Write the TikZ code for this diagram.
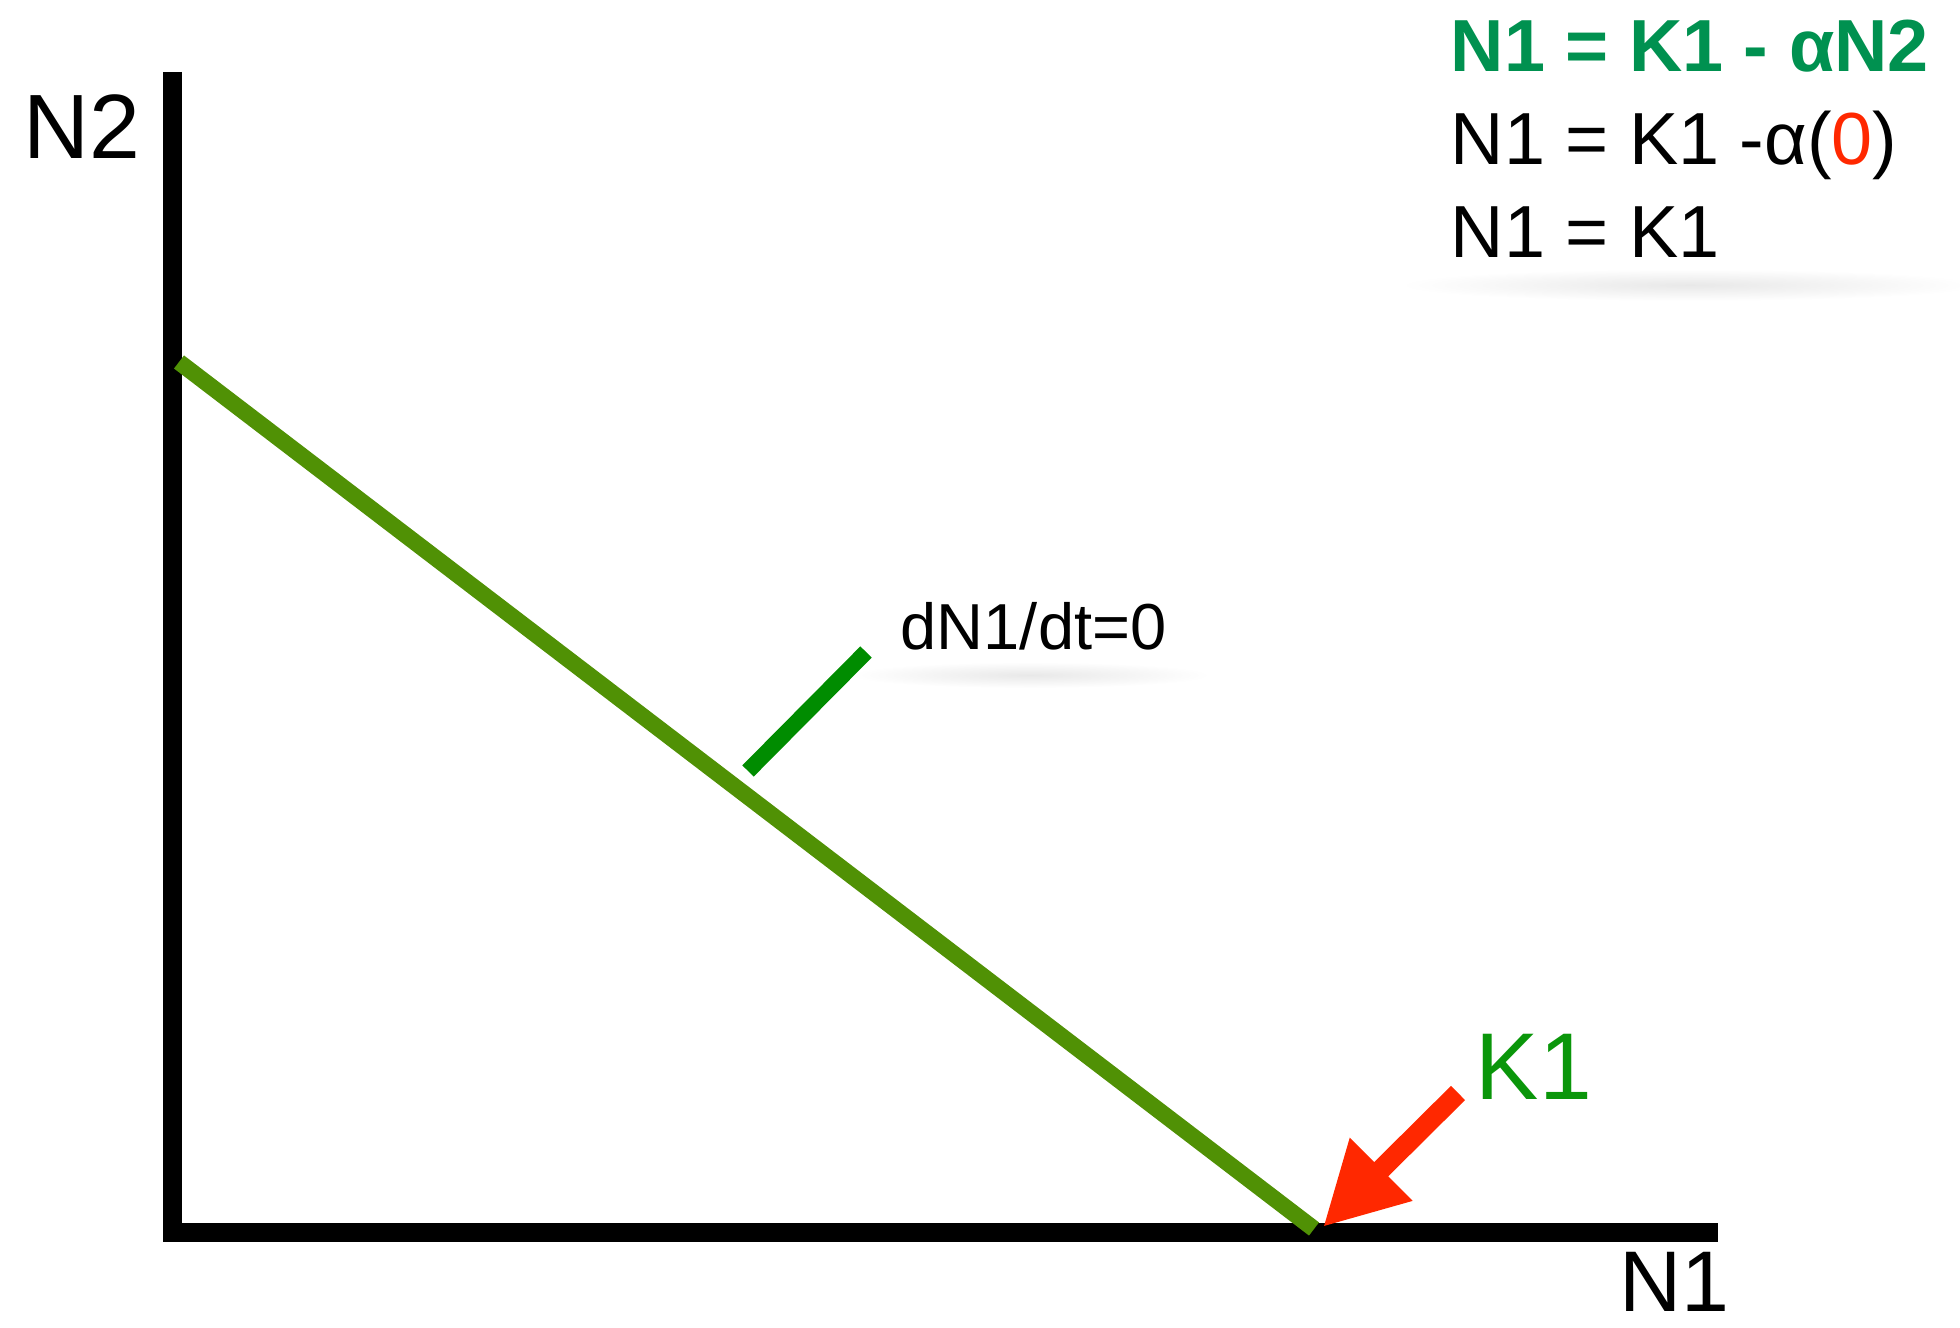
\documentclass[tikz,border=0pt]{standalone}
\usepackage{fontspec}
\setmainfont{Liberation Sans}
\usetikzlibrary{arrows.meta}
\definecolor{figaxis}{RGB}{0,0,0}
\definecolor{figline}{RGB}{80,145,5}
\definecolor{figtick}{RGB}{0,140,0}
\definecolor{figeq}{RGB}{0,145,80}
\definecolor{figkey}{RGB}{10,150,10}
\definecolor{figred}{RGB}{255,40,0}
\tikzset{
  ax/.style   ={draw=figaxis, line width=0.19cm, line join=miter},
  ncl/.style  ={draw=figline, line width=0.165cm},
  tk/.style   ={draw=figtick, line width=0.16cm},
  lab/.style  ={font=\fontsize{26}{31}\selectfont, inner sep=0pt, anchor=base west},
  labs/.style ={font=\fontsize{18.5}{22}\selectfont, inner sep=0pt, anchor=base west},
  eq/.style   ={font=\fontsize{21}{25}\selectfont, inner sep=0pt, anchor=base west},
  ptr/.style  ={draw=figred, line width=0.2cm, -{Triangle[length=0.82cm,width=0.83cm]}},
  shd/.style  ={inner color=black!9, outer color=white},
}
\begin{document}
\begin{tikzpicture}
  \useasboundingbox (0,0) rectangle (19.6,13.28);
  % soft shadows under the texts
  \shade[shd] (10.30,6.53) ellipse (1.8 and 0.13);
  \shade[shd] (16.90,10.43) ellipse (2.9 and 0.16);
  % axes
  \coordinate (top) at (1.72,12.56);
  \coordinate (org) at (1.72,0.95);
  \coordinate (rgt) at (17.18,0.95);
  \draw[ax] (top) -- (org) -- (rgt);
  \node[lab] (n2) at (0.23,11.69) {N2};
  \node[lab,font=\fontsize{24.5}{29}\selectfont] (n1) at (16.19,0.16) {N1};
  % isocline
  \coordinate (n2i) at (1.79,9.66);
  \coordinate (k1i) at (13.14,0.99);
  \draw[ncl] (n2i) -- (k1i);
  \coordinate (tka) at (7.48,5.57);
  \coordinate (tkb) at (8.66,6.76);
  \draw[tk] (tka) -- (tkb);
  \node[labs] (iso) at (9.00,6.78) {dN1/dt=0};
  % carrying capacity
  \node[lab,text=figkey,font=\fontsize{27}{32}\selectfont] (k1) at (14.75,2.28) {K1};
  \coordinate (arr) at (14.58,2.35);
  \coordinate (tip) at (13.23,1.01);
  \draw[ptr] (arr) -- (tip);
  % equations
  \node[eq,text=figeq,font=\bfseries\fontsize{21}{25}\selectfont] (eqa) at (14.50,12.56) {N1 = K1 - αN2};
  \node[eq] (eqb) at (14.50,11.63) {N1 = K1 -α(\textcolor{figred}{0})};
  \node[eq] (eqc) at (14.50,10.70) {N1 = K1};
\end{tikzpicture}
\end{document}
